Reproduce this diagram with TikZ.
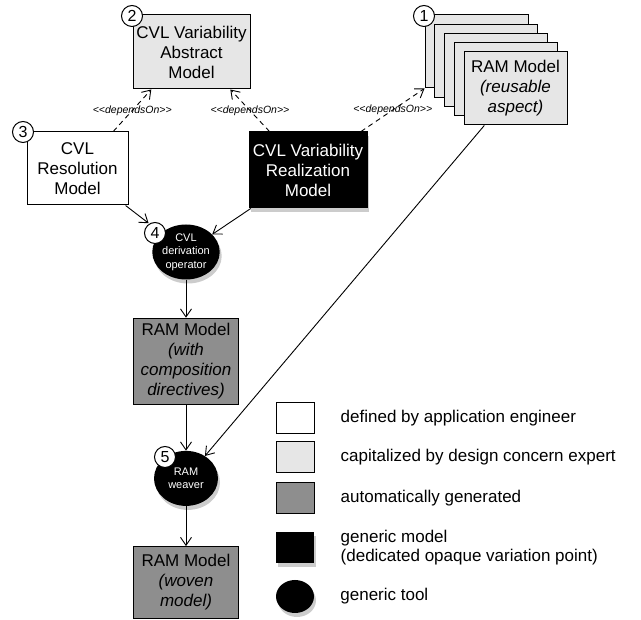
\documentclass[tikz,border=0pt]{standalone}
\usepackage{fontspec}
\setmainfont{Liberation Sans}
\usetikzlibrary{arrows.meta,positioning,shapes,shadows}
\definecolor{capital}{HTML}{E6E6E6}
\definecolor{generated}{HTML}{8E8E8E}
\tikzset{
    %Define standard arrow tip
    >={Straight Barb[length=8pt,width=11pt]},
    %Define style for boxes
    model/.style={
   	rectangle,
   	draw=black, line width=1pt,
   	minimum width=101pt,
   	minimum height=73pt,
   	inner sep=2pt,
   	font=\fontsize{17}{20}\selectfont,
   	align=center
   },
   engineer/.style={model, fill=white},
   expert/.style={model, fill=capital},
   genbox/.style={model, fill=generated},
   opaque/.style={
   	model,
   	fill=black,
   	text=white,
   	drop shadow={shadow xshift=2pt, shadow yshift=-4pt, opacity=.4}
   },
   tool/.style={
   	ellipse,
   	fill=black,
   	text=white,
   	minimum width=64pt,
   	minimum height=55pt,
   	inner sep=0pt,
   	font=\fontsize{11}{13.5}\selectfont,
   	align=center,
   	drop shadow={shadow xshift=2pt, shadow yshift=-4pt, opacity=.4}
   },
   num/.style={
   	circle,
   	draw=black, line width=1pt,
   	fill=white,
   	minimum size=21pt,
   	inner sep=0pt,
   	font=\fontsize{16}{16}\selectfont
   },
    % Define arrow style
    dep/.style={
           ->,
           dash pattern=on 5pt off 4pt,
           line width=.9pt},
    flow/.style={
           ->,
           line width=.9pt},
    deplabel/.style={font=\itshape\fontsize{10.5}{10.5}\selectfont},
    legbox/.style={
   	rectangle,
   	draw=black, line width=1pt,
   	minimum width=38pt,
   	minimum height=31pt
   },
   legtext/.style={
   	font=\fontsize{17}{19}\selectfont,
   	align=left,
   	inner sep=0pt
   }
}
\newcommand{\dependson}{<{}<dependsOn>{}>}
\begin{document}
\begin{tikzpicture}[x=1pt,y=-1pt,node distance=26pt]
		\useasboundingbox (0,0) rectangle (641,620);
		%nodes
		\node[expert, minimum width=117pt, minimum height=74pt](abs) at (191.5,52){CVL Variability\\Abstract\\Model};
		\node[engineer](res) at (77.5,168.5){CVL\\Resolution\\Model};
		\node[opaque, minimum width=118pt, minimum height=76pt](real) at (308,170){CVL Variability\\Realization\\Model};
		\foreach \i in {1,...,4}
			\node[expert, minimum width=103pt](ram\i) at ({476.5+(\i-1)*9.75},{51.5+(\i-1)*9.25}){};
		\node[expert, minimum width=103pt](ram5) at (515.5,88.5){RAM Model\\\textit{(reusable}\\\textit{aspect)}};
		\node[tool](deriv) at (186,252){CVL\\derivation\\operator};
		\node[genbox, minimum width=105pt, minimum height=86pt, below=38pt of deriv](comp){RAM Model\\\textit{(with}\\\textit{composition}\\\textit{directives)}};
		\node[tool, below=46pt of comp](weaver){RAM\\weaver};
		\node[genbox, minimum width=105pt, minimum height=72pt, below=40pt of weaver](woven){RAM Model\\\textit{(woven}\\\textit{model)}};
		%dependencies
		\draw[dep] (res.46) -- node[deplabel]{\dependson} (abs.223.5);
		\draw[dep] (real.135) -- node[deplabel]{\dependson} (abs.-44);
		\draw[dep] (real.36.2) -- node[deplabel]{\dependson} (ram1.south west);
		%flow
		\path[flow]
		(res) edge[shorten >=16pt] (deriv)
		(real) edge (deriv)
		(deriv) edge (comp)
		(comp) edge (weaver)
		(ram5) edge (weaver)
		(weaver) edge (woven);
		%numbers
		\node[num](num1) at (424,16){1};
		\node[num](num2) at (132,16){2};
		\node[num](num3) at (23,132){3};
		\node[num](num4) at (155,233){4};
		\node[num](num5) at (165,457){5};
		%legend
		\node[legbox, fill=white](leg1) at (295,418.5){};
		\node[legbox, fill=capital](leg2) at (295,457){};
		\node[legbox, fill=generated](leg3) at (295,498.5){};
		\node[legbox, fill=black, draw=none, drop shadow={shadow xshift=2pt, shadow yshift=-4pt, opacity=.4}](leg4) at (295,547.5){};
		\node[ellipse, fill=black, minimum width=38pt, minimum height=33pt, drop shadow={shadow xshift=2pt, shadow yshift=-4pt, opacity=.4}](leg5) at (295,596.5){};
		\node[legtext, right=of leg1](txt1){defined by application engineer};
		\node[legtext, right=of leg2](txt2){capitalized by design concern expert};
		\node[legtext, right=of leg3](txt3){automatically generated};
		\node[legtext, right=of leg4](txt4){generic model\\(dedicated opaque variation point)};
		\node[legtext, right=of leg5](txt5){generic tool};
\end{tikzpicture}
\end{document}
